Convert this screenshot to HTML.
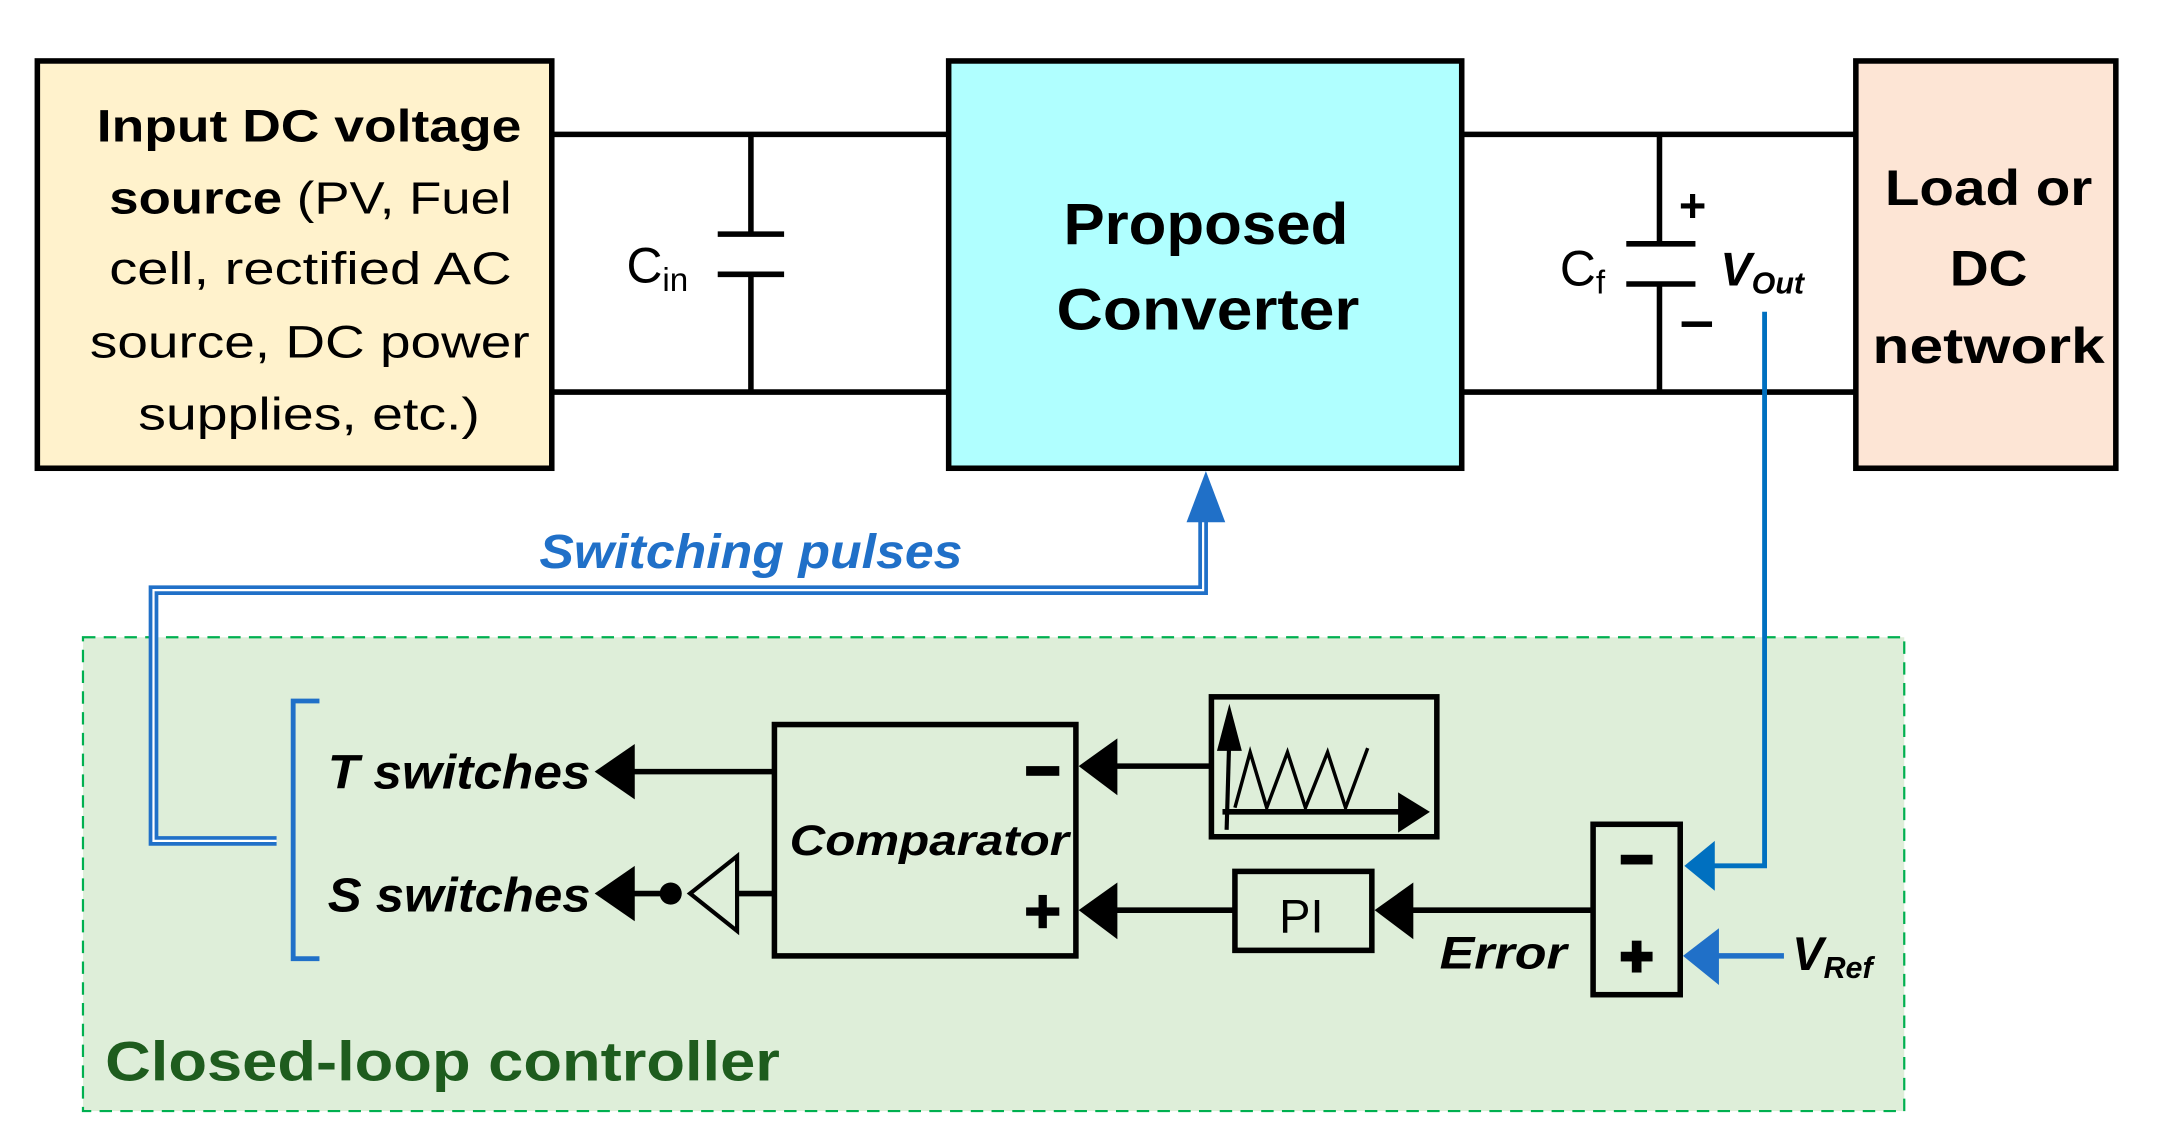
<!DOCTYPE html>
<html><head><meta charset="utf-8"><style>html,body{margin:0;padding:0;background:#fff}svg{display:block}</style></head>
<body>
<svg width="2167" height="1136" viewBox="0 0 1567 820" preserveAspectRatio="none" xmlns="http://www.w3.org/2000/svg" font-family="Liberation Sans, sans-serif">
<rect x="60" y="460" width="1317" height="342" fill="#deeed9" stroke="#00b050" stroke-width="1.6" stroke-dasharray="9,6"/>
<g stroke="#000" stroke-width="4" fill="none">
<line x1="400" y1="97" x2="685" y2="97"/><line x1="400" y1="283" x2="685" y2="283"/>
<line x1="543" y1="97" x2="543" y2="169"/><line x1="543" y1="198" x2="543" y2="283"/>
<line x1="519" y1="169" x2="567" y2="169"/><line x1="519" y1="198" x2="567" y2="198"/>
<line x1="1058" y1="97" x2="1343" y2="97"/><line x1="1058" y1="283" x2="1343" y2="283"/>
<line x1="1200" y1="97" x2="1200" y2="176"/><line x1="1200" y1="205" x2="1200" y2="283"/>
<line x1="1176" y1="176" x2="1226" y2="176"/><line x1="1176" y1="205" x2="1226" y2="205"/>
</g>
<rect x="27" y="44" width="372" height="294" fill="#fff2cc" stroke="#000" stroke-width="4"/>
<rect x="686" y="44" width="371" height="294" fill="#b0ffff" stroke="#000" stroke-width="4"/>
<rect x="1342" y="44" width="188" height="294" fill="#fde5d5" stroke="#000" stroke-width="4"/>
<g font-size="33" fill="#000">
<text x="70" y="102" font-weight="bold" textLength="307" lengthAdjust="spacingAndGlyphs">Input DC voltage</text>
<text x="79" y="154" textLength="291" lengthAdjust="spacingAndGlyphs"><tspan font-weight="bold">source</tspan> (PV, Fuel</text>
<text x="79" y="205" textLength="291" lengthAdjust="spacingAndGlyphs">cell, rectified AC</text>
<text x="65" y="258" textLength="318" lengthAdjust="spacingAndGlyphs">source, DC power</text>
<text x="100" y="310" textLength="247" lengthAdjust="spacingAndGlyphs">supplies, etc.)</text>
</g>
<g font-weight="bold" fill="#000">
<text x="769" y="176" font-size="42" textLength="206" lengthAdjust="spacingAndGlyphs">Proposed</text>
<text x="764" y="238" font-size="42" textLength="219" lengthAdjust="spacingAndGlyphs">Converter</text>
<text x="1363" y="148" font-size="36" textLength="150" lengthAdjust="spacingAndGlyphs">Load or</text>
<text x="1410" y="206" font-size="36" textLength="56" lengthAdjust="spacingAndGlyphs">DC</text>
<text x="1354" y="262" font-size="36" textLength="168" lengthAdjust="spacingAndGlyphs">network</text>
</g>
<text x="453" y="204" font-size="36" fill="#000">C<tspan font-size="24" dy="6">in</tspan></text>
<text x="1128" y="206" font-size="36" fill="#000">C<tspan font-size="24" dy="6">f</tspan></text>
<text x="1214" y="160" font-size="34" font-weight="bold" fill="#000">+</text>
<rect x="1216" y="232" width="22" height="4" fill="#000"/>
<text x="1244" y="206" font-size="34" font-weight="bold" font-style="italic" fill="#000">V<tspan font-size="22" dy="6">Out</tspan></text>
<polyline points="1276,225 1276,625 1238,625" fill="none" stroke="#0070c0" stroke-width="3.5"/>
<polygon points="1218,625 1240,607 1240,643" fill="#0070c0"/>
<g fill="none" stroke="#2070c8">
<polyline points="870,370 870,426 111,426 111,607 200,607" stroke-width="7"/>
<polyline points="870,370 870,426 111,426 111,607 200,607" stroke="#fff" stroke-width="1.6"/>
</g>
<polygon points="872,340 858,377 886,377" fill="#2070c8"/>
<text x="390" y="410" font-size="35" font-weight="bold" font-style="italic" fill="#2070c8" textLength="306" lengthAdjust="spacingAndGlyphs">Switching pulses</text>
<polyline points="231,506 212,506 212,692 231,692" fill="none" stroke="#2070c8" stroke-width="3.5"/>
<rect x="560" y="523" width="218" height="167" fill="none" stroke="#000" stroke-width="4"/>
<text x="571" y="617" font-size="31" font-weight="bold" font-style="italic" textLength="202" lengthAdjust="spacingAndGlyphs">Comparator</text>
<rect x="742" y="553" width="24" height="7" fill="#000"/>
<rect x="742" y="655" width="24" height="6" fill="#000"/><rect x="751" y="646" width="6" height="24" fill="#000"/>
<g stroke="#000" stroke-width="4" fill="none">
<line x1="560" y1="557" x2="455" y2="557"/>
<line x1="560" y1="645" x2="533" y2="645"/>
<line x1="485" y1="645" x2="455" y2="645"/>
<polygon points="533,618 533,672 499,645" stroke-width="3"/>
<line x1="875" y1="553" x2="805" y2="553"/>
<line x1="892" y1="657" x2="805" y2="657"/>
<line x1="1151" y1="657" x2="1018" y2="657"/>
<line x1="1290" y1="690" x2="1240" y2="690" stroke="#2070c8"/>
</g>
<circle cx="485" cy="645" r="8" fill="#000"/>
<polygon points="430,557 459,537 459,577" fill="#000"/>
<polygon points="430,645 459,625 459,665" fill="#000"/>
<polygon points="780,553 808,533 808,574" fill="#000"/>
<polygon points="780,657 808,637 808,678" fill="#000"/>
<polygon points="994,657 1022,637 1022,678" fill="#000"/>
<polygon points="1217,690 1243,670 1243,711" fill="#2070c8"/>
<text x="237" y="569" font-size="35" font-weight="bold" font-style="italic" textLength="190" lengthAdjust="spacingAndGlyphs">T switches</text>
<text x="237" y="658" font-size="35" font-weight="bold" font-style="italic" textLength="190" lengthAdjust="spacingAndGlyphs">S switches</text>
<rect x="876" y="503" width="163" height="101" fill="none" stroke="#000" stroke-width="4"/>
<g stroke="#000" fill="none">
<line x1="887" y1="599" x2="889" y2="530" stroke-width="3"/>
<polyline points="893,583 904,543 916,583 931,543 944,583 960,543 973,583 989,540" stroke-width="2.5"/>
<line x1="884" y1="586" x2="1012" y2="586" stroke-width="4"/>
</g>
<polygon points="889,508 880,542 898,542" fill="#000"/>
<polygon points="1034,586 1011,572 1011,601" fill="#000"/>
<rect x="893" y="629" width="99" height="57" fill="none" stroke="#000" stroke-width="4"/>
<text x="925" y="673" font-size="34" fill="#000">PI</text>
<rect x="1152" y="595" width="63" height="123" fill="none" stroke="#000" stroke-width="4"/>
<rect x="1172" y="617" width="23" height="7" fill="#000"/>
<rect x="1172" y="687" width="23" height="7" fill="#000"/><rect x="1180" y="679" width="7" height="23" fill="#000"/>
<text x="1041" y="699" font-size="33" font-weight="bold" font-style="italic" textLength="92" lengthAdjust="spacingAndGlyphs">Error</text>
<text x="1296" y="700" font-size="34" font-weight="bold" font-style="italic">V<tspan font-size="22" dy="6">Ref</tspan></text>
<text x="76" y="780" font-size="40" font-weight="bold" fill="#1e5c1e" textLength="488" lengthAdjust="spacingAndGlyphs">Closed-loop controller</text>
</svg>
</body></html>
